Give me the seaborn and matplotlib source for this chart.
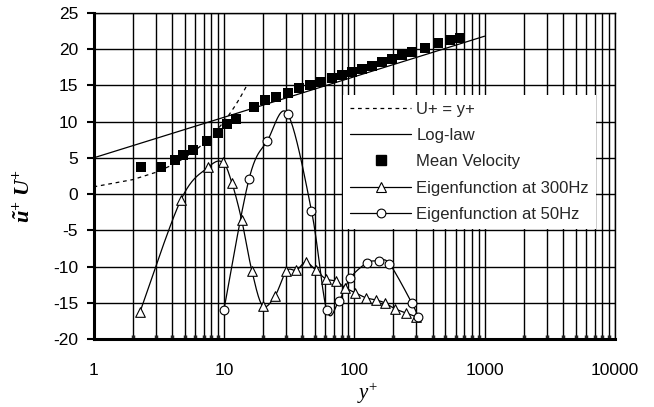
import numpy as np
import matplotlib
matplotlib.use("Agg")
import matplotlib.pyplot as plt
from matplotlib.lines import Line2D
from matplotlib.ticker import LogLocator, FixedLocator, FixedFormatter, NullFormatter
import seaborn as sns

# ---- data -------------------------------------------------------------
# viscous sublayer, U+ = y+
visc_y = [1, 2, 3, 4, 5, 6, 7, 8, 9, 10, 11, 12, 13, 14, 15]
visc_u = [1, 2, 3, 4, 5, 6, 7, 8, 9, 10, 11, 12, 13, 14, 15]

# log-law line
loglaw_y = [1, 10, 100, 1000]
loglaw_u = [5.0, 10.6, 16.2, 21.8]

# measured mean velocity profile
mean_y = [2.3, 3.3, 4.2, 4.9, 5.8, 7.4, 9.0, 10.5, 12.3, 17.0, 20.7, 25.0,
          31.3, 37.8, 45.6, 55.7, 67.2, 80.2, 96.9, 114, 136, 163, 196,
          234, 279, 347, 439, 546, 652]
mean_u = [3.8, 3.8, 4.7, 5.4, 6.1, 7.4, 8.4, 9.7, 10.4, 12.0, 13.0, 13.4,
          14.0, 14.7, 15.1, 15.5, 16.0, 16.4, 16.9, 17.3, 17.7, 18.2, 18.7,
          19.2, 19.6, 20.1, 20.8, 21.3, 21.5]

# eigenfunction at 300 Hz
ef300_y = [2.27, 4.68, 7.58, 9.78, 11.5, 13.7, 16.4, 19.8, 24.6, 30.2, 36.0,
           42.5, 50.7, 60.5, 72, 85, 101, 122, 146, 171, 204, 248, 296]
ef300_u = [-16.3, -0.8, 3.7, 4.4, 1.6, -3.6, -10.6, -15.4, -14.1, -10.6,
           -10.5, -9.4, -10.5, -11.7, -12.0, -12.9, -13.6, -14.3, -14.6,
           -15.0, -15.8, -16.4, -16.9]

# eigenfunction at 50 Hz
ef50_y = [10.0, 15.6, 21.6, 30.8, 47, 61.5, 76, 93, 125, 154, 186, 276, 308]
ef50_u = [-16.0, 2.1, 7.4, 11.1, -2.3, -16.0, -14.8, -11.6, -9.5, -9.25,
          -9.6, -15.0, -16.9]

x_ticks = [1, 10, 100, 1000, 10000]
x_tick_labels = ["1", "10", "100", "1000", "10000"]
y_ticks = [-20, -15, -10, -5, 0, 5, 10, 15, 20, 25]

legend_labels = ["U+ = y+", "Log-law", "Mean Velocity",
                 "Eigenfunction at 300Hz", "Eigenfunction at 50Hz"]


def smooth_curve(xs, ys, steps=24):
    """Bezier smoothing through the points in (log x, y) space."""
    p = np.column_stack([np.log10(xs), ys])
    n = len(p)
    out = [p[0]]
    t = np.linspace(0, 1, steps)[1:, None]
    for i in range(n - 1):
        p0 = p[i - 1] if i > 0 else p[i]
        p3 = p[i + 2] if i + 2 < n else p[i + 1]
        b0, b3 = p[i], p[i + 1]
        b1 = b0 + (b3 - p0) / 6.0
        b2 = b3 - (p3 - b0) / 6.0
        seg = ((1 - t) ** 3) * b0 + 3 * ((1 - t) ** 2) * t * b1 \
            + 3 * (1 - t) * t ** 2 * b2 + t ** 3 * b3
        out.extend(seg)
    out = np.array(out)
    return 10 ** out[:, 0], out[:, 1]


# ---- style ------------------------------------------------------------
sns.set_style("white")
plt.rcParams["font.family"] = ["Liberation Sans", "DejaVu Sans"]
plt.rcParams["axes.unicode_minus"] = False
plt.rcParams["mathtext.fontset"] = "custom"
plt.rcParams["mathtext.rm"] = "Liberation Serif"
plt.rcParams["mathtext.it"] = "Liberation Serif:italic"
plt.rcParams["mathtext.bf"] = "Liberation Serif:italic:bold"

fig = plt.figure(figsize=(6.54, 4.07), dpi=100)
W, H = 654, 407
left, right, top, bottom = 93.5, 615.0, 13.0, 339.0
ax = fig.add_axes([left / W, 1 - bottom / H, (right - left) / W, (bottom - top) / H])

ax.set_xscale("log")
ax.set_xlim(1, 10000)
ax.set_ylim(-20, 25)

# grid: every decade subdivision vertically, every 5 units horizontally
ax.xaxis.set_major_locator(FixedLocator(x_ticks))
ax.xaxis.set_major_formatter(FixedFormatter(x_tick_labels))
ax.xaxis.set_minor_locator(LogLocator(base=10, subs=np.arange(2, 10), numticks=20))
ax.xaxis.set_minor_formatter(NullFormatter())
ax.yaxis.set_major_locator(FixedLocator(y_ticks))
ax.grid(which="both", axis="x", color="black", linewidth=1.0)
ax.grid(which="major", axis="y", color="black", linewidth=1.0)
ax.set_axisbelow(True)

for side in ["left", "bottom"]:
    ax.spines[side].set_linewidth(2.2)
for side in ["top", "right"]:
    ax.spines[side].set_linewidth(1.0)
for s in ax.spines.values():
    s.set_color("black")

ax.tick_params(axis="x", which="major", direction="out", length=5, width=1.5,
               pad=12, labelsize=12.5, colors="black")
ax.tick_params(axis="x", which="minor", direction="in", length=3, width=2.5,
               bottom=True)
ax.tick_params(axis="y", which="major", direction="out", length=5, width=1.5,
               pad=6, labelsize=12.5, colors="black", left=True)

lw = 0.9
# U+ = y+
sns.lineplot(x=visc_y, y=visc_u, ax=ax, color="black", linewidth=lw,
             linestyle=(0, (3, 3)), sort=False, estimator=None)
# log-law
sns.lineplot(x=loglaw_y, y=loglaw_u, ax=ax, color="black", linewidth=lw,
             sort=False, estimator=None)
# mean velocity
sns.scatterplot(x=mean_y, y=mean_u, ax=ax, marker="s", s=42, color="black",
                edgecolor="black", linewidth=0, zorder=4)
# eigenfunctions
sx, sy = smooth_curve(ef300_y, ef300_u)
sns.lineplot(x=sx, y=sy, ax=ax, color="black", linewidth=lw, sort=False,
             estimator=None)
sns.scatterplot(x=ef300_y, y=ef300_u, ax=ax, marker="^", s=48, color="white",
                edgecolor="black", linewidth=0.8, zorder=4)
sx, sy = smooth_curve(ef50_y, ef50_u)
sns.lineplot(x=sx, y=sy, ax=ax, color="black", linewidth=lw, sort=False,
             estimator=None)
sns.scatterplot(x=ef50_y, y=ef50_u, ax=ax, marker="o", s=40, color="white",
                edgecolor="black", linewidth=0.8, zorder=4)

ax.set_xlabel("")
ax.set_ylabel("")

handles = [
    Line2D([], [], color="black", linewidth=lw, linestyle=(0, (3, 3))),
    Line2D([], [], color="black", linewidth=lw),
    Line2D([], [], color="black", linestyle="none", marker="s", markersize=6.5),
    Line2D([], [], color="black", linewidth=lw, marker="^", markersize=7,
           markerfacecolor="white", markeredgewidth=0.8),
    Line2D([], [], color="black", linewidth=lw, marker="o", markersize=6.3,
           markerfacecolor="white", markeredgewidth=0.8),
]
leg = ax.legend(handles, legend_labels, loc="upper left",
                bbox_to_anchor=((343 - left) / (right - left), (bottom - 95) / (bottom - top)),
                borderaxespad=0, borderpad=0.4, labelspacing=0.68,
                handlelength=3.7, handletextpad=0.3, fontsize=12,
                frameon=True, fancybox=False, framealpha=1, numpoints=1)
leg.get_frame().set_facecolor("white")
leg.get_frame().set_edgecolor("none")
leg.set_zorder(10)

fig.text(368 / W, 1 - 393 / H, r"$y^{+}$", ha="center", va="center",
         fontsize=15, color="black")
fig.text(24 / W, 1 - 196 / H, r"$\mathbf{\tilde{u}}^{\mathbf{+}}\ \mathbf{U}^{\mathbf{+}}$",
         ha="center", va="center", rotation=90, fontsize=16, color="black")

fig.savefig("out.png", dpi=100)
